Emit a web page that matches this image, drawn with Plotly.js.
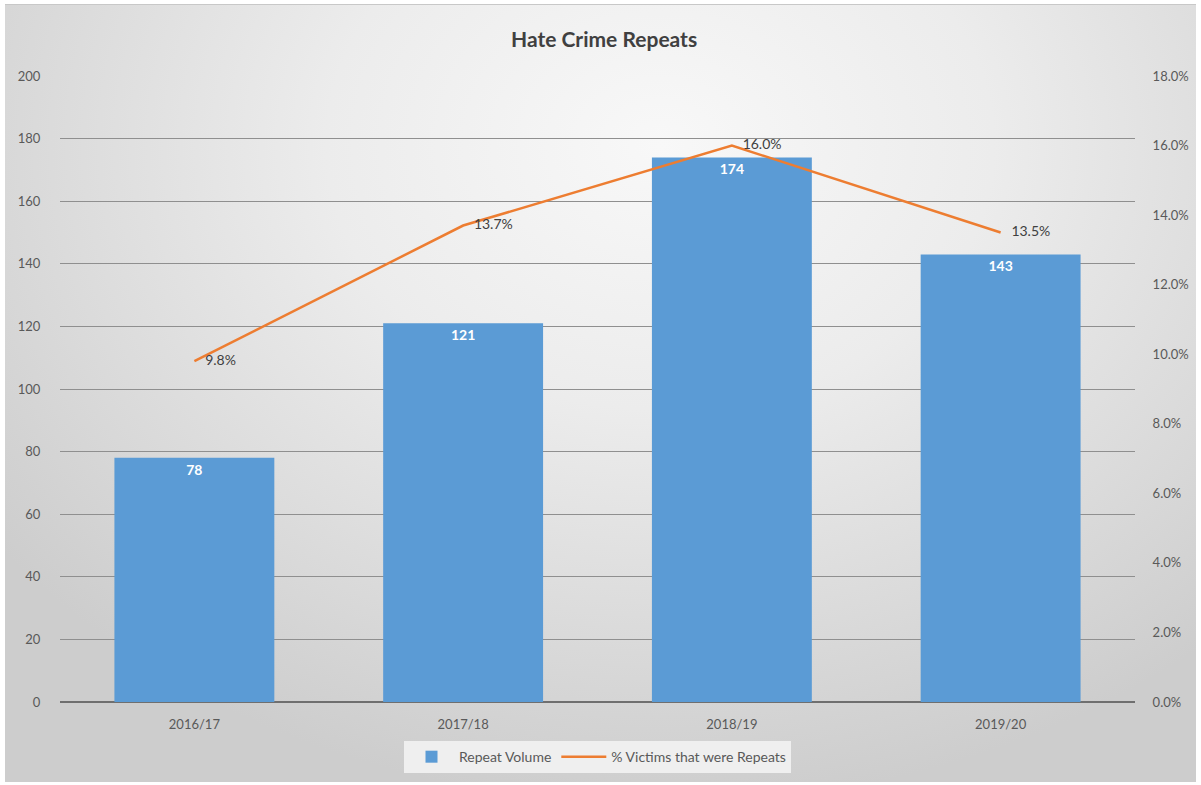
<!DOCTYPE html>
<html>
<head>
<meta charset="utf-8">
<script src="https://cdn.plot.ly/plotly-3.0.1.min.js"></script>
<style>
  html, body { margin: 0; padding: 0; background: #ffffff; }
  #bg { position: absolute; left: 5px; top: 4px; width: 1191px; height: 777px;
        background: radial-gradient(ellipse 70% 85% at 55% 18%, #f8f8f8 0%, #ececec 40%, #dadada 75%, #cdcdcd 100%);
        border-top: 1px solid #c8c8c8; }
  #chart { position: absolute; left: 0; top: 0; width: 1201px; height: 785px; }
</style>
</head>
<body>
<div id="bg"></div>
<div id="chart"></div>
<script>
const categories = ['2016/17', '2017/18', '2018/19', '2019/20'];
const repeatVolume = [78, 121, 174, 143];
const pctRepeats = [0.098, 0.137, 0.160, 0.135];
const leftTicks = [0, 20, 40, 60, 80, 100, 120, 140, 160, 180, 200];
const rightTicks = [0, 0.02, 0.04, 0.06, 0.08, 0.10, 0.12, 0.14, 0.16, 0.18];

const FONT = 'Lato, "Open Sans", "Liberation Sans", sans-serif';

const bars = {
  type: 'bar',
  name: 'Repeat Volume',
  x: categories,
  y: repeatVolume,
  marker: { color: '#5B9BD5' },
  width: 0.595,
  text: repeatVolume.map(String),
  textposition: 'inside',
  insidetextanchor: 'end',
  textfont: { color: '#ffffff', size: 14, family: FONT, weight: 'bold' },
  hoverinfo: 'x+y'
};

const line = {
  type: 'scatter',
  mode: 'lines+text',
  name: '% Victims that were Repeats',
  x: categories,
  y: pctRepeats,
  yaxis: 'y2',
  line: { color: '#ED7D31', width: 2.5 },
  text: pctRepeats.map(v => '\u00a0\u00a0\u00a0' + (v * 100).toFixed(1) + '%'),
  textposition: 'middle right',
  textfont: { color: '#404040', size: 14, family: FONT },
  cliponaxis: false
};

const layout = {
  width: 1201,
  height: 785,
  paper_bgcolor: 'rgba(0,0,0,0)',
  plot_bgcolor: 'rgba(0,0,0,0)',
  margin: { l: 60, r: 66, t: 76, b: 80 },
  font: { family: FONT, color: '#595959', size: 13 },
  title: {
    text: '<b>Hate Crime Repeats</b>',
    x: 0.503, xanchor: 'center',
    y: 0.95, yanchor: 'middle',
    font: { family: FONT, size: 21, color: '#404040' }
  },
  bargap: 0.405,
  showlegend: true,
  legend: {
    orientation: 'h',
    x: 0.5, xanchor: 'center',
    y: -0.088, yanchor: 'middle',
    bgcolor: 'rgba(245,245,245,0.85)',
    font: { size: 14, color: '#595959', family: FONT },
    itemwidth: 45,
    traceorder: 'normal'
  },
  xaxis: {
    type: 'category',
    showgrid: false,
    showline: false,
    zeroline: false,
    ticks: 'outside', ticklen: 10, tickcolor: 'rgba(0,0,0,0)',
    tickfont: { size: 13, color: '#595959' }
  },
  yaxis: {
    range: [0, 200],
    tickvals: leftTicks,
    showgrid: true,
    gridcolor: '#8f8f8f',
    gridwidth: 1,
    zeroline: true,
    zerolinecolor: '#6f6f6f',
    zerolinewidth: 2.5,
    showline: false,
    ticks: 'outside', ticklen: 16, tickcolor: 'rgba(0,0,0,0)',
    tickfont: { size: 13, color: '#595959' }
  },
  yaxis2: {
    overlaying: 'y',
    side: 'right',
    range: [0, 0.18],
    tickvals: rightTicks,
    tickformat: '.1%',
    showgrid: false,
    zeroline: false,
    showline: false,
    ticks: 'outside', ticklen: 14, tickcolor: 'rgba(0,0,0,0)',
    tickfont: { size: 13, color: '#595959' }
  }
};

Plotly.newPlot('chart', [bars, line], layout, { displayModeBar: false, staticPlot: true });
</script>
</body>
</html>
